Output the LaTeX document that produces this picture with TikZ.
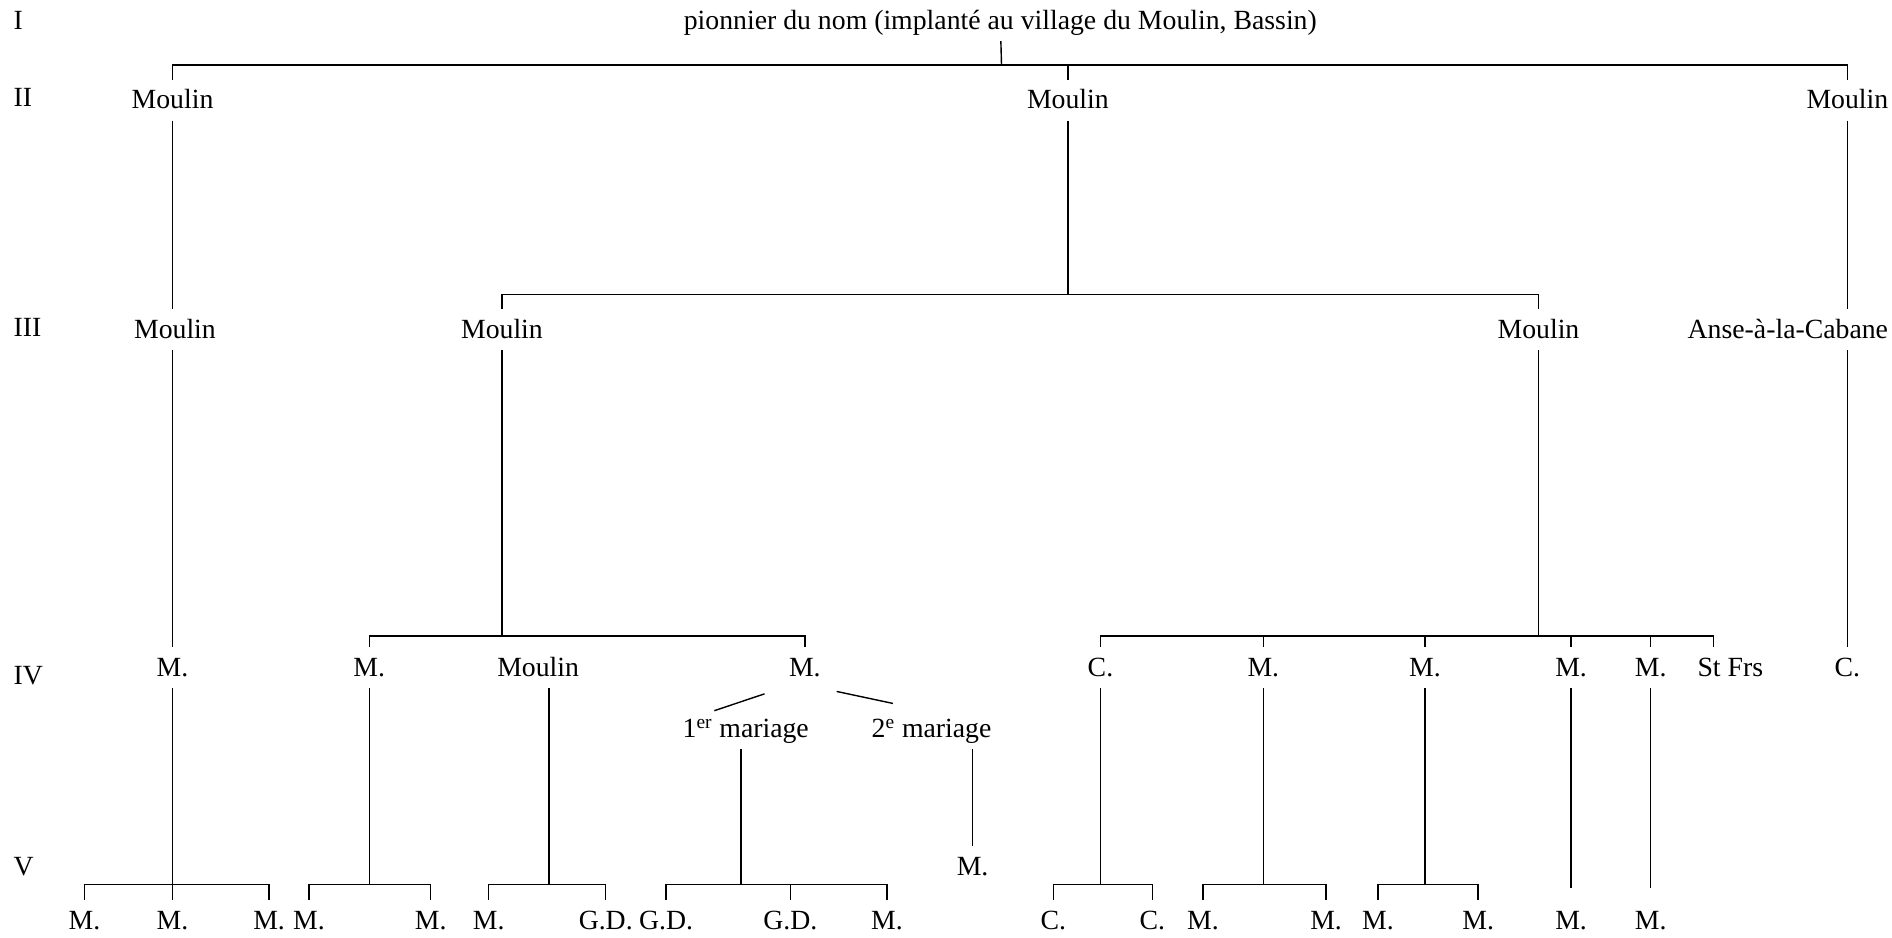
\documentclass[tikz,border=0pt]{standalone}
\usepackage{fontspec}
\setmainfont{Liberation Serif}

\begin{document}
\begin{tikzpicture}[x=0.024133cm, y=-0.024133cm,
    every node/.style={font=\fontsize{15.8}{18}\selectfont, inner sep=5.5pt, text height=11pt, text depth=1pt},
    gen/.style={anchor=west, inner sep=0pt},
    branch/.style={thick}]
    \useasboundingbox (0,0) rectangle (1568,777);

    % The generations on the left
        \node[gen] (gI) at (11,17) {I};
        \node[gen] (gII) at (11,81) {II};
        \node[gen] (gIII) at (11,272) {III};
        \node[gen] (gIV) at (11,560) {IV};
        \node[gen] (gV) at (11,718) {V};

    % First, locate each of the nodes and name them
        \node (top) at (829,17) {pionnier du nom (implanté au village du Moulin, Bassin)};
        \node (a1) at (143,83) {Moulin};
        \node (a2) at (885,83) {Moulin};
        \node (a3) at (1531,83) {Moulin};
        \node (b1) at (145,273) {Moulin};
        \node (b2) at (416,273) {Moulin};
        \node (b3) at (1275,273) {Moulin};
        \node[anchor=east] (b4) at (1573,273) {Anse-à-la-Cabane};
        \node (c1) at (143,553) {M.};
        \node (c2) at (306,553) {M.};
        \node (c3) at (446,553) {Moulin};
        \node (c4) at (667,553) {M.};
        \node (c5) at (912,553) {C.};
        \node (c6) at (1047,553) {M.};
        \node (c7) at (1181,553) {M.};
        \node (c8) at (1302,553) {M.};
        \node (c9) at (1368,553) {M.};
        \node (c10) at (1434,553) {St Frs};
        \node (c11) at (1531,553) {C.};
        \node (d1) at (618,604) {1\textsuperscript{er} mariage};
        \node (d2) at (772,604) {2\textsuperscript{e} mariage};
        \node (e1) at (806,718) {M.};
        \node (f1a) at (70,763) {M.};
        \node (f1b) at (143,763) {M.};
        \node (f1c) at (223,763) {M.};
        \node (f2a) at (256,763) {M.};
        \node (f2b) at (357,763) {M.};
        \node (f3a) at (405,763) {M.};
        \node (f3b) at (502,763) {G.D.};
        \node (f4a) at (552,763) {G.D.};
        \node (f4b) at (655,763) {G.D.};
        \node (f4c) at (735,763) {M.};
        \node (f6a) at (873,763) {C.};
        \node (f6b) at (955,763) {C.};
        \node (f7a) at (997,763) {M.};
        \node (f7b) at (1099,763) {M.};
        \node (f8a) at (1142,763) {M.};
        \node (f8b) at (1225,763) {M.};
        \node (f9) at (1302,763) {M.};
        \node (f10) at (1368,763) {M.};

    % Where the lines meet
        \coordinate (j0) at (830,54);
        \coordinate (j1) at (885,244);
        \coordinate (j2) at (416,527);
        \coordinate (j3) at (1275,527);
        \coordinate (k1) at (143,733);
        \coordinate (k2) at (306,733);
        \coordinate (k3) at (455,733);
        \coordinate (k4) at (614,733);
        \coordinate (k6) at (912,733);
        \coordinate (k7) at (1047,733);
        \coordinate (k8) at (1181,733);

    % Now draw the lines:
        \draw[branch] (top) -- (j0);
        \draw[branch] (a1.north) |- (j0) -| (a3.north);
        \draw[branch] (a2.north) -- (a2.north |- j0);
        \draw[branch] (a1.south) -- (a1.south |- b1.north);
        \draw[branch] (a2) -- (j1);
        \draw[branch] (b2.north) |- (j1) -| (b3.north);
        \draw[branch] (a3.south) -- (a3.south |- b4.north);
        \draw[branch] (c1.north) -- (c1.north |- b1.south);
        \draw[branch] (b2) -- (j2);
        \draw[branch] (c2.north) |- (j2) -| (c4.north);
        \draw[branch] (b3) -- (j3);
        \draw[branch] (c5.north) |- (j3) -| ([shift={(-14,0)}]c10.north);
        \foreach \k in {c6,c7,c8,c9}
            \draw[branch] (\k.north) -- (\k.north |- j3);
        \draw[branch] (c11.north) -- (c11.north |- b4.south);
        \draw[branch] ([shift={(-12,5)}]c4.south west) -- ([shift={(-26,2)}]d1.north);
        \draw[branch] ([shift={(5,3)}]c4.south east) -- ([shift={(-32,-4)}]d2.north);
        \draw[branch] (e1.north) -- (e1.north |- d2.south);
        \draw[branch] (c1) -- (f1b);
        \draw[branch] (f1a.north) |- (k1) -| (f1c.north);
        \draw[branch] (c2) -- (k2);
        \draw[branch] (f2a.north) |- (k2) -| (f2b.north);
        \draw[branch] (c3.south -| k3) -- (k3);
        \draw[branch] (f3a.north) |- (k3) -| (f3b.north);
        \draw[branch] (d1.south -| k4) -- (k4);
        \draw[branch] (f4a.north) |- (k4) -| (f4c.north);
        \draw[branch] (f4b.north) -- (f4b.north |- k4);
        \draw[branch] (c5) -- (k6);
        \draw[branch] (f6a.north) |- (k6) -| (f6b.north);
        \draw[branch] (c6) -- (k7);
        \draw[branch] (f7a.north) |- (k7) -| (f7b.north);
        \draw[branch] (c7) -- (k8);
        \draw[branch] (f8a.north) |- (k8) -| (f8b.north);
        \draw[branch, shorten >=7pt] (c8) -- (f9);
        \draw[branch, shorten >=7pt] (c9) -- (f10);
\end{tikzpicture}
\end{document}
